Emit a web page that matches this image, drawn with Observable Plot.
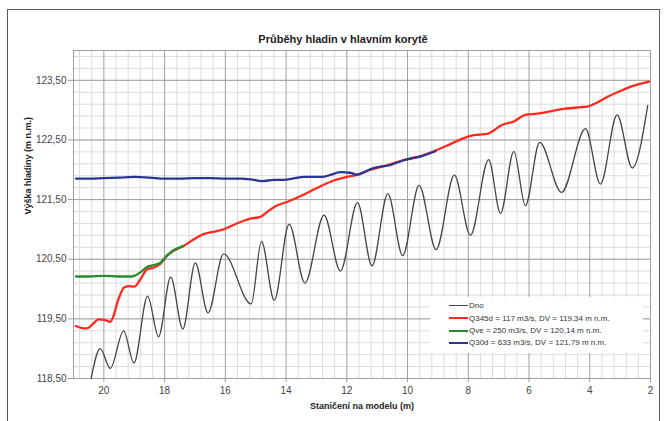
<!DOCTYPE html>
<html>
<head>
<meta charset="utf-8">
<script src="https://cdn.jsdelivr.net/npm/d3@7"></script>
<script src="https://cdn.jsdelivr.net/npm/@observablehq/plot@0.6"></script>
<style>
  html, body { margin: 0; padding: 0; background: #fff; overflow: hidden; }
  #wrap { position: relative; width: 667px; height: 421px; font-family: Arial, "Liberation Sans", sans-serif; }
  #border { position: absolute; left: 7px; top: 9px; width: 651px; height: 440px; border: 1.5px solid #5a5a5a; pointer-events: none; }
  #legend { position: absolute; left: 430px; top: 297px; width: 213px; height: 56px; background: #fff; }
  .row { position: absolute; left: 19px; height: 12px; line-height: 12px; font-size: 8px; color: #333; white-space: nowrap; }
  .sw { display: inline-block; width: 19px; vertical-align: middle; margin-right: 1px; }
</style>
</head>
<body>
<div id="wrap">
  <div id="chart"></div>
  <div id="legend"></div>
  <div id="border"></div>
</div>
<script>
// ---- data ----
const chartTitle = "Průběhy hladin v hlavním korytě";
const xTitle = "Staničení na modelu (m)";
const yTitle = "Výška hladiny (m n.m.)";

const xTicks = [20, 18, 16, 14, 12, 10, 8, 6, 4, 2];
const yTicks = [118.5, 119.5, 120.5, 121.5, 122.5, 123.5];

const seriesNames = ["Dno", "Q345d = 117 m3/s, DV = 119,34 m n.m.", "Qve = 250 m3/s, DV = 120,14 m n.m.", "Q30d = 633 m3/s, DV = 121,79 m n.m."];
const seriesColors = ["#454545", "#ff2a1f", "#2a8a2e", "#2b3592"];

// Dno (bed)
const dnoX = [20.42, 20.12, 19.79, 19.35, 19.01, 18.56, 18.20, 17.80, 17.40, 16.99, 16.57, 16.06, 15.15, 14.81, 14.39, 13.90, 13.38, 12.75, 12.21, 11.65, 11.17, 10.65, 10.16, 9.62, 9.06, 8.46, 7.93, 7.33, 6.94, 6.50, 6.12, 5.65, 4.93, 4.14, 3.65, 3.10, 2.60, 2.09];
const dnoY = [118.50, 119.00, 118.67, 119.30, 118.76, 119.88, 119.20, 120.20, 119.33, 120.44, 119.60, 120.59, 119.75, 120.80, 119.81, 121.09, 120.10, 121.24, 120.30, 121.45, 120.39, 121.60, 120.56, 121.74, 120.66, 121.91, 120.90, 122.17, 121.27, 122.31, 121.40, 122.46, 121.62, 122.69, 121.76, 122.92, 122.03, 123.08];

// Q345d (red)
const q345X = [20.92, 20.75, 20.56, 20.35, 20.18, 19.96, 19.79, 19.68, 19.57, 19.45, 19.35, 19.19, 19.00, 18.80, 18.58, 18.36, 18.14, 17.92, 17.71, 17.38, 17.05, 16.72, 16.40, 16.06, 15.62, 15.18, 14.85, 14.58, 14.30, 13.97, 13.64, 13.20, 12.76, 12.43, 11.99, 11.55, 11.22, 10.78, 10.34, 9.91, 9.58, 9.14, 8.59, 8.15, 7.82, 7.38, 7.16, 6.94, 6.50, 6.12, 5.73, 5.29, 4.86, 4.30, 4.08, 3.87, 3.43, 2.99, 2.55, 2.05];
const q345Y = [119.38, 119.35, 119.34, 119.42, 119.49, 119.48, 119.45, 119.55, 119.75, 119.92, 120.02, 120.05, 120.04, 120.16, 120.33, 120.36, 120.42, 120.56, 120.64, 120.72, 120.83, 120.92, 120.96, 121.00, 121.10, 121.18, 121.21, 121.31, 121.40, 121.46, 121.53, 121.64, 121.75, 121.82, 121.88, 121.93, 122.00, 122.06, 122.13, 122.19, 122.23, 122.31, 122.43, 122.53, 122.58, 122.60, 122.66, 122.74, 122.81, 122.92, 122.94, 122.98, 123.02, 123.05, 123.06, 123.10, 123.22, 123.32, 123.41, 123.48];

// Qve (green)
const qveX = [20.92, 20.50, 20.00, 19.50, 19.08, 18.95, 18.80, 18.58, 18.36, 18.14, 17.92, 17.71, 17.38];
const qveY = [120.21, 120.21, 120.22, 120.21, 120.21, 120.23, 120.28, 120.37, 120.40, 120.44, 120.56, 120.65, 120.72];

// Q30d (blue)
const q30X = [20.92, 20.50, 20.00, 19.50, 19.00, 18.50, 18.00, 17.50, 17.00, 16.50, 16.00, 15.50, 15.18, 14.79, 14.40, 14.08, 13.70, 13.42, 13.00, 12.82, 12.50, 12.21, 11.90, 11.66, 11.40, 11.12, 10.56, 10.13, 9.58, 9.08];
const q30Y = [121.85, 121.85, 121.86, 121.87, 121.88, 121.87, 121.85, 121.85, 121.86, 121.86, 121.85, 121.85, 121.84, 121.81, 121.83, 121.83, 121.86, 121.88, 121.88, 121.88, 121.92, 121.96, 121.95, 121.92, 121.97, 122.03, 122.08, 122.16, 122.22, 122.31];

// ---- build ----
const toRows = (xs, ys) => xs.map((x, i) => ({x, y: ys[i]}));
const dno = toRows(dnoX, dnoY);
const q345 = toRows(q345X, q345Y);
const qve = toRows(qveX, qveY);
const q30 = toRows(q30X, q30Y);

const xMinor = d3.range(2, 21.01, 0.4).map(v => +v.toFixed(2)).filter(v => !xTicks.includes(v));
const yMinor = d3.range(118.7, 124.0, 0.2).map(v => +v.toFixed(2));

const fmtY = d => d.toFixed(2).replace(".", ",");

const chart = Plot.plot({
  width: 667,
  height: 421,
  marginLeft: 73,
  marginRight: 17,
  marginTop: 50,
  marginBottom: 43,
  style: {fontFamily: "Arial, 'Liberation Sans', sans-serif", background: "transparent", color: "#444"},
  x: {domain: [21, 2]},
  y: {domain: [118.5, 124]},
  marks: [
    Plot.ruleX(xMinor, {stroke: "#dcdcdc", strokeWidth: 1}),
    Plot.ruleY(yMinor, {stroke: "#dcdcdc", strokeWidth: 1}),
    Plot.ruleX(xTicks, {stroke: "#a0a0a0", strokeWidth: 1}),
    Plot.ruleY(yTicks, {stroke: "#a0a0a0", strokeWidth: 1}),
    Plot.frame({stroke: "#a0a0a0"}),
    Plot.axisX({ticks: xTicks, tickSize: 4, tickPadding: 4, fontSize: 10, label: null, stroke: "#999", fill: "#444"}),
    Plot.axisY({ticks: yTicks, tickSize: 5, tickPadding: 2, fontSize: 10, tickFormat: fmtY, label: null, stroke: "#999", fill: "#444"}),
    Plot.line(dno, {x: "x", y: "y", stroke: seriesColors[0], strokeWidth: 1.3, curve: "monotone-x"}),
    Plot.line(q345, {x: "x", y: "y", stroke: seriesColors[1], strokeWidth: 2.3, curve: "monotone-x"}),
    Plot.line(qve, {x: "x", y: "y", stroke: seriesColors[2], strokeWidth: 2.3, curve: "monotone-x"}),
    Plot.line(q30, {x: "x", y: "y", stroke: seriesColors[3], strokeWidth: 2.3, curve: "monotone-x"}),
    Plot.text([chartTitle], {frameAnchor: "top", dx: -19, dy: -15, fontSize: 11, fontWeight: "bold", fill: "#222"}),
    Plot.text([xTitle], {frameAnchor: "bottom", dy: 30, fontSize: 9, fontWeight: "bold", fill: "#222"}),
    Plot.text([yTitle], {frameAnchor: "left", dx: -45, rotate: -90, fontSize: 9, fontWeight: "bold", fill: "#222"})
  ]
});
document.getElementById("chart").appendChild(chart);

// legend
const legend = document.getElementById("legend");
const rowTops = [3, 15.5, 28, 40];
seriesNames.forEach((name, i) => {
  const row = document.createElement("div");
  row.className = "row";
  row.style.top = rowTops[i] + "px";
  const sw = document.createElement("span");
  sw.className = "sw";
  sw.style.borderTop = (i === 0 ? 1.3 : 2) + "px solid " + seriesColors[i];
  row.appendChild(sw);
  row.appendChild(document.createTextNode(name));
  legend.appendChild(row);
});
</script>
</body>
</html>
